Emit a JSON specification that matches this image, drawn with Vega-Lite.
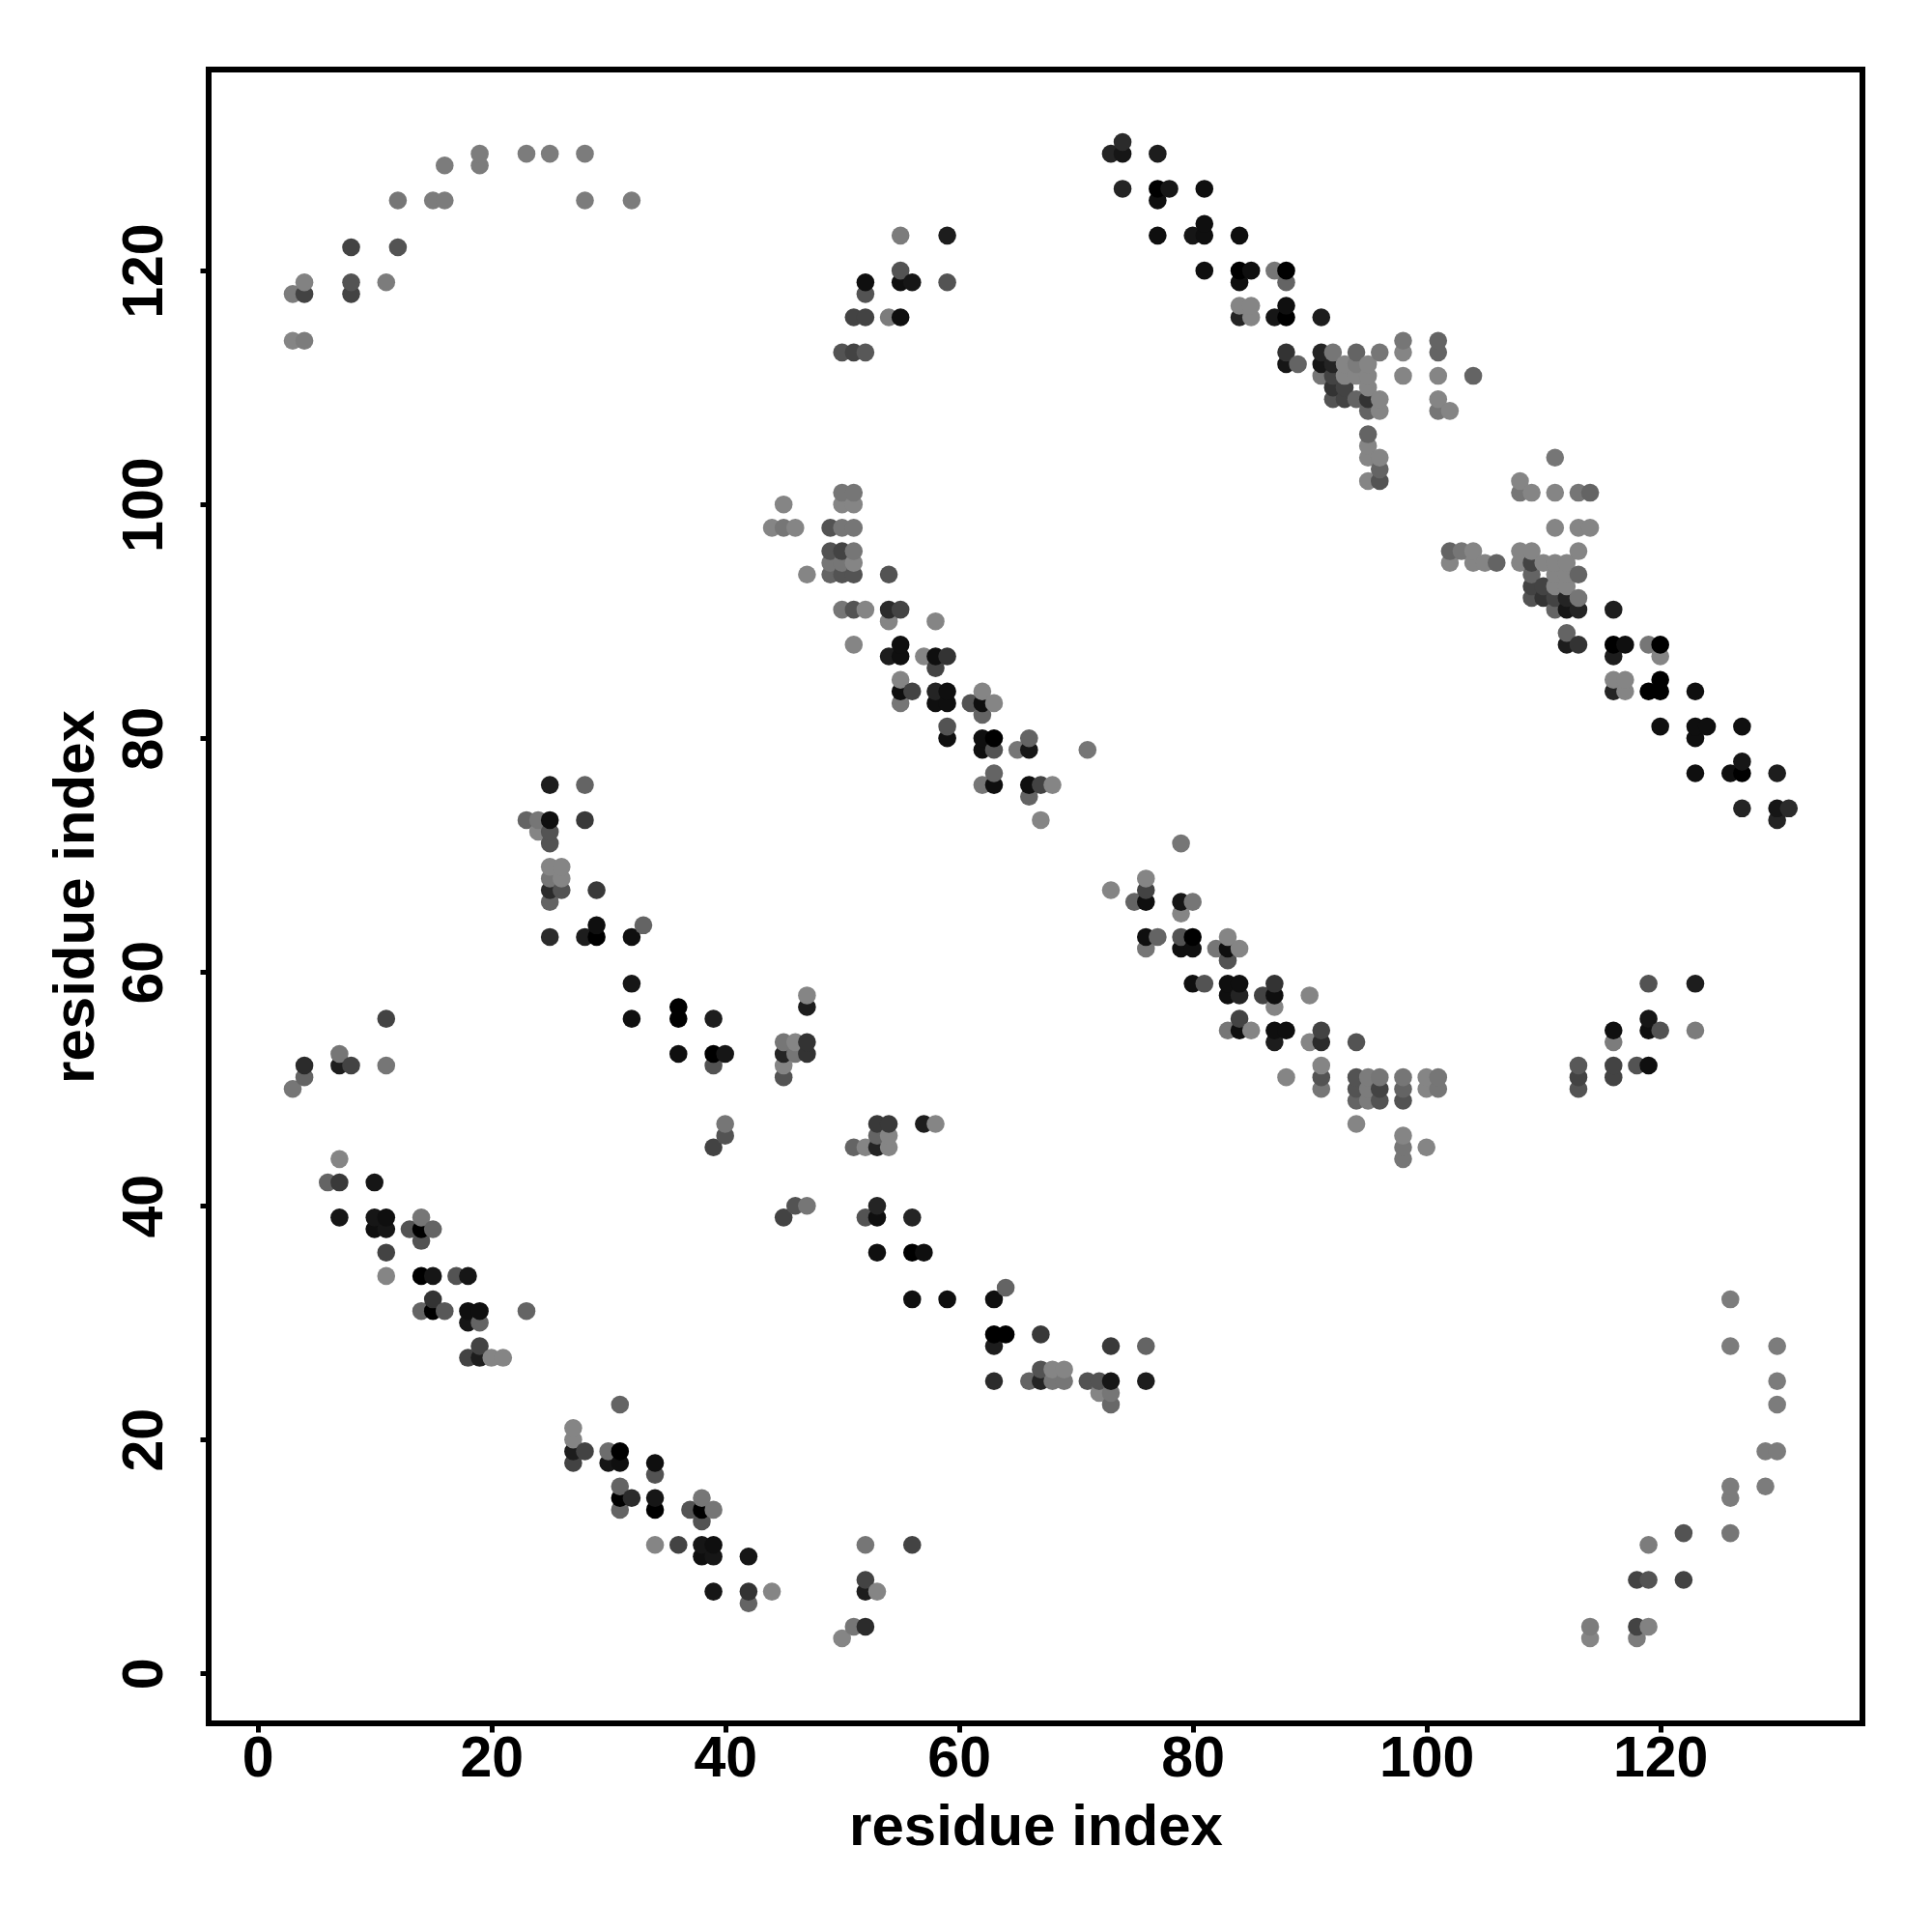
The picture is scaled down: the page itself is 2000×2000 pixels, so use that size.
{"$schema":"https://vega.github.io/schema/vega-lite/v6.json","width":1712,"height":1712,"autosize":"none","padding":{"left":216,"top":72,"right":72,"bottom":216},"background":"white","config":{"view":{"stroke":"#000000","strokeWidth":6},"font":"Liberation Sans"},
"data":{"values":[
{"i":3,"j":50,"s":119},{"i":3,"j":114,"s":133},{"i":3,"j":118,"s":125},
{"i":4,"j":51,"s":102},{"i":4,"j":52,"s":42},{"i":4,"j":114,"s":125},{"i":4,"j":118,"s":68},{"i":4,"j":119,"s":130},
{"i":6,"j":42,"s":102},
{"i":7,"j":39,"s":17},{"i":7,"j":42,"s":58},{"i":7,"j":44,"s":133},{"i":7,"j":52,"s":26},{"i":7,"j":53,"s":119},
{"i":8,"j":52,"s":68},{"i":8,"j":118,"s":68},{"i":8,"j":119,"s":85},{"i":8,"j":122,"s":68},
{"i":10,"j":38,"s":10},{"i":10,"j":39,"s":17},{"i":10,"j":42,"s":17},
{"i":11,"j":34,"s":133},{"i":11,"j":36,"s":68},{"i":11,"j":38,"s":17},{"i":11,"j":39,"s":10},{"i":11,"j":52,"s":119},{"i":11,"j":56,"s":68},{"i":11,"j":119,"s":125},
{"i":12,"j":122,"s":85},{"i":12,"j":126,"s":119},
{"i":13,"j":38,"s":85},
{"i":14,"j":31,"s":102},{"i":14,"j":34,"s":0},{"i":14,"j":37,"s":85},{"i":14,"j":38,"s":0},{"i":14,"j":39,"s":119},
{"i":15,"j":31,"s":0},{"i":15,"j":32,"s":51},{"i":15,"j":34,"s":17},{"i":15,"j":38,"s":102},{"i":15,"j":126,"s":125},
{"i":16,"j":31,"s":90},{"i":16,"j":126,"s":125},{"i":16,"j":129,"s":125},
{"i":17,"j":34,"s":85},
{"i":18,"j":27,"s":68},{"i":18,"j":30,"s":17},{"i":18,"j":31,"s":10},{"i":18,"j":34,"s":17},
{"i":19,"j":27,"s":26},{"i":19,"j":28,"s":68},{"i":19,"j":30,"s":102},{"i":19,"j":31,"s":10},{"i":19,"j":129,"s":125},{"i":19,"j":130,"s":125},
{"i":20,"j":27,"s":133},
{"i":21,"j":27,"s":133},
{"i":23,"j":31,"s":102},{"i":23,"j":73,"s":102},{"i":23,"j":130,"s":125},
{"i":24,"j":72,"s":133},{"i":24,"j":73,"s":119},
{"i":25,"j":63,"s":42},{"i":25,"j":66,"s":102},{"i":25,"j":67,"s":42},{"i":25,"j":68,"s":119},{"i":25,"j":69,"s":133},{"i":25,"j":71,"s":85},{"i":25,"j":72,"s":85},{"i":25,"j":73,"s":10},{"i":25,"j":76,"s":26},{"i":25,"j":130,"s":125},
{"i":26,"j":67,"s":85},{"i":26,"j":68,"s":133},{"i":26,"j":69,"s":133},
{"i":27,"j":18,"s":68},{"i":27,"j":19,"s":26},{"i":27,"j":20,"s":133},{"i":27,"j":21,"s":133},
{"i":28,"j":19,"s":68},{"i":28,"j":63,"s":26},{"i":28,"j":73,"s":58},{"i":28,"j":76,"s":102},{"i":28,"j":126,"s":125},{"i":28,"j":130,"s":125},
{"i":29,"j":63,"s":0},{"i":29,"j":64,"s":10},{"i":29,"j":67,"s":58},
{"i":30,"j":18,"s":17},{"i":30,"j":19,"s":110},
{"i":31,"j":14,"s":102},{"i":31,"j":15,"s":0},{"i":31,"j":16,"s":102},{"i":31,"j":18,"s":10},{"i":31,"j":19,"s":0},{"i":31,"j":23,"s":102},
{"i":32,"j":15,"s":42},{"i":32,"j":56,"s":10},{"i":32,"j":59,"s":17},{"i":32,"j":63,"s":10},{"i":32,"j":126,"s":125},
{"i":33,"j":64,"s":102},
{"i":34,"j":11,"s":133},{"i":34,"j":14,"s":0},{"i":34,"j":15,"s":17},{"i":34,"j":17,"s":85},{"i":34,"j":18,"s":10},
{"i":36,"j":11,"s":68},{"i":36,"j":53,"s":10},{"i":36,"j":56,"s":0},{"i":36,"j":57,"s":0},
{"i":37,"j":14,"s":85},
{"i":38,"j":10,"s":10},{"i":38,"j":11,"s":17},{"i":38,"j":13,"s":85},{"i":38,"j":14,"s":0},{"i":38,"j":15,"s":119},
{"i":39,"j":7,"s":17},{"i":39,"j":10,"s":17},{"i":39,"j":11,"s":10},{"i":39,"j":14,"s":119},{"i":39,"j":45,"s":68},{"i":39,"j":52,"s":85},{"i":39,"j":53,"s":0},{"i":39,"j":56,"s":26},
{"i":40,"j":46,"s":85},{"i":40,"j":47,"s":119},{"i":40,"j":53,"s":17},
{"i":42,"j":6,"s":102},{"i":42,"j":7,"s":51},{"i":42,"j":10,"s":17},
{"i":44,"j":7,"s":133},{"i":44,"j":98,"s":133},
{"i":45,"j":39,"s":68},{"i":45,"j":51,"s":85},{"i":45,"j":52,"s":133},{"i":45,"j":53,"s":34},{"i":45,"j":54,"s":119},{"i":45,"j":98,"s":119},{"i":45,"j":100,"s":133},
{"i":46,"j":40,"s":85},{"i":46,"j":53,"s":119},{"i":46,"j":54,"s":133},{"i":46,"j":98,"s":133},
{"i":47,"j":40,"s":119},{"i":47,"j":53,"s":51},{"i":47,"j":54,"s":51},{"i":47,"j":57,"s":26},{"i":47,"j":58,"s":133},{"i":47,"j":94,"s":133},
{"i":49,"j":94,"s":102},{"i":49,"j":95,"s":119},{"i":49,"j":96,"s":85},{"i":49,"j":98,"s":85},
{"i":50,"j":3,"s":133},{"i":50,"j":91,"s":119},{"i":50,"j":94,"s":85},{"i":50,"j":95,"s":119},{"i":50,"j":96,"s":68},{"i":50,"j":98,"s":119},{"i":50,"j":100,"s":133},{"i":50,"j":101,"s":119},{"i":50,"j":113,"s":85},
{"i":51,"j":4,"s":119},{"i":51,"j":45,"s":102},{"i":51,"j":88,"s":133},{"i":51,"j":91,"s":85},{"i":51,"j":94,"s":85},{"i":51,"j":95,"s":133},{"i":51,"j":96,"s":119},{"i":51,"j":98,"s":119},{"i":51,"j":100,"s":133},{"i":51,"j":101,"s":119},{"i":51,"j":113,"s":68},{"i":51,"j":116,"s":68},
{"i":52,"j":4,"s":42},{"i":52,"j":7,"s":26},{"i":52,"j":8,"s":68},{"i":52,"j":11,"s":119},{"i":52,"j":39,"s":85},{"i":52,"j":45,"s":133},{"i":52,"j":91,"s":133},{"i":52,"j":113,"s":90},{"i":52,"j":116,"s":68},{"i":52,"j":118,"s":85},{"i":52,"j":119,"s":10},
{"i":53,"j":7,"s":133},{"i":53,"j":36,"s":10},{"i":53,"j":39,"s":10},{"i":53,"j":40,"s":34},{"i":53,"j":45,"s":34},{"i":53,"j":46,"s":102},{"i":53,"j":47,"s":58},
{"i":54,"j":45,"s":133},{"i":54,"j":46,"s":133},{"i":54,"j":47,"s":58},{"i":54,"j":87,"s":26},{"i":54,"j":90,"s":133},{"i":54,"j":91,"s":42},{"i":54,"j":94,"s":85},{"i":54,"j":116,"s":125},
{"i":55,"j":83,"s":119},{"i":55,"j":84,"s":10},{"i":55,"j":85,"s":133},{"i":55,"j":87,"s":10},{"i":55,"j":88,"s":10},{"i":55,"j":91,"s":68},{"i":55,"j":116,"s":10},{"i":55,"j":119,"s":10},{"i":55,"j":120,"s":85},{"i":55,"j":123,"s":125},
{"i":56,"j":11,"s":68},{"i":56,"j":32,"s":10},{"i":56,"j":36,"s":0},{"i":56,"j":39,"s":34},{"i":56,"j":84,"s":68},{"i":56,"j":119,"s":17},
{"i":57,"j":36,"s":10},{"i":57,"j":47,"s":26},{"i":57,"j":87,"s":133},
{"i":58,"j":47,"s":133},{"i":58,"j":83,"s":10},{"i":58,"j":84,"s":34},{"i":58,"j":86,"s":68},{"i":58,"j":87,"s":10},{"i":58,"j":90,"s":133},
{"i":59,"j":32,"s":10},{"i":59,"j":80,"s":10},{"i":59,"j":81,"s":85},{"i":59,"j":83,"s":10},{"i":59,"j":84,"s":10},{"i":59,"j":87,"s":51},{"i":59,"j":119,"s":85},{"i":59,"j":123,"s":26},
{"i":61,"j":83,"s":85},
{"i":62,"j":76,"s":119},{"i":62,"j":79,"s":10},{"i":62,"j":80,"s":10},{"i":62,"j":82,"s":102},{"i":62,"j":83,"s":10},{"i":62,"j":84,"s":133},
{"i":63,"j":25,"s":42},{"i":63,"j":28,"s":26},{"i":63,"j":29,"s":0},{"i":63,"j":32,"s":10},{"i":63,"j":76,"s":10},{"i":63,"j":77,"s":102},{"i":63,"j":79,"s":85},{"i":63,"j":80,"s":0},{"i":63,"j":83,"s":133},
{"i":64,"j":29,"s":0},{"i":64,"j":33,"s":102},
{"i":65,"j":79,"s":119},
{"i":66,"j":25,"s":102},{"i":66,"j":75,"s":102},{"i":66,"j":76,"s":10},{"i":66,"j":79,"s":17},{"i":66,"j":80,"s":102},
{"i":67,"j":25,"s":34},{"i":67,"j":26,"s":85},{"i":67,"j":29,"s":58},{"i":67,"j":73,"s":133},{"i":67,"j":76,"s":68},
{"i":68,"j":25,"s":119},{"i":68,"j":26,"s":133},{"i":68,"j":76,"s":133},
{"i":69,"j":25,"s":119},{"i":69,"j":26,"s":133},
{"i":71,"j":25,"s":85},{"i":71,"j":79,"s":119},
{"i":72,"j":24,"s":133},{"i":72,"j":25,"s":85},
{"i":73,"j":23,"s":106},{"i":73,"j":24,"s":119},{"i":73,"j":25,"s":17},{"i":73,"j":28,"s":58},{"i":73,"j":67,"s":133},{"i":73,"j":130,"s":34},
{"i":74,"j":127,"s":34},{"i":74,"j":130,"s":17},{"i":74,"j":131,"s":42},
{"i":75,"j":66,"s":102},
{"i":76,"j":25,"s":26},{"i":76,"j":28,"s":102},{"i":76,"j":62,"s":119},{"i":76,"j":63,"s":10},{"i":76,"j":66,"s":10},{"i":76,"j":67,"s":68},{"i":76,"j":68,"s":133},
{"i":77,"j":63,"s":102},{"i":77,"j":123,"s":10},{"i":77,"j":126,"s":10},{"i":77,"j":127,"s":0},{"i":77,"j":130,"s":26},
{"i":78,"j":127,"s":17},
{"i":79,"j":62,"s":10},{"i":79,"j":63,"s":85},{"i":79,"j":65,"s":133},{"i":79,"j":66,"s":17},{"i":79,"j":71,"s":119},
{"i":80,"j":59,"s":10},{"i":80,"j":62,"s":10},{"i":80,"j":63,"s":0},{"i":80,"j":66,"s":119},{"i":80,"j":123,"s":17},
{"i":81,"j":59,"s":85},{"i":81,"j":120,"s":10},{"i":81,"j":123,"s":10},{"i":81,"j":124,"s":10},{"i":81,"j":127,"s":10},
{"i":82,"j":62,"s":119},
{"i":83,"j":55,"s":119},{"i":83,"j":58,"s":10},{"i":83,"j":59,"s":10},{"i":83,"j":61,"s":85},{"i":83,"j":62,"s":10},{"i":83,"j":63,"s":133},
{"i":84,"j":55,"s":10},{"i":84,"j":56,"s":68},{"i":84,"j":58,"s":34},{"i":84,"j":59,"s":10},{"i":84,"j":62,"s":133},{"i":84,"j":116,"s":34},{"i":84,"j":117,"s":133},{"i":84,"j":119,"s":10},{"i":84,"j":120,"s":0},{"i":84,"j":123,"s":10},
{"i":85,"j":55,"s":133},{"i":85,"j":116,"s":133},{"i":85,"j":117,"s":133},{"i":85,"j":120,"s":10},
{"i":86,"j":58,"s":68},
{"i":87,"j":54,"s":26},{"i":87,"j":55,"s":10},{"i":87,"j":57,"s":133},{"i":87,"j":58,"s":10},{"i":87,"j":59,"s":51},{"i":87,"j":116,"s":17},{"i":87,"j":120,"s":119},
{"i":88,"j":51,"s":133},{"i":88,"j":55,"s":10},{"i":88,"j":112,"s":17},{"i":88,"j":113,"s":51},{"i":88,"j":116,"s":0},{"i":88,"j":117,"s":10},{"i":88,"j":119,"s":102},{"i":88,"j":120,"s":0},
{"i":89,"j":112,"s":102},
{"i":90,"j":54,"s":133},{"i":90,"j":58,"s":133},
{"i":91,"j":50,"s":119},{"i":91,"j":51,"s":85},{"i":91,"j":52,"s":133},{"i":91,"j":54,"s":42},{"i":91,"j":55,"s":68},{"i":91,"j":111,"s":119},{"i":91,"j":112,"s":17},{"i":91,"j":113,"s":34},{"i":91,"j":116,"s":26},
{"i":92,"j":109,"s":85},{"i":92,"j":110,"s":51},{"i":92,"j":111,"s":68},{"i":92,"j":112,"s":34},{"i":92,"j":113,"s":119},
{"i":93,"j":109,"s":68},{"i":93,"j":110,"s":68},{"i":93,"j":111,"s":133},{"i":93,"j":112,"s":133},
{"i":94,"j":47,"s":133},{"i":94,"j":49,"s":102},{"i":94,"j":50,"s":85},{"i":94,"j":51,"s":85},{"i":94,"j":54,"s":85},{"i":94,"j":109,"s":102},{"i":94,"j":111,"s":133},{"i":94,"j":112,"s":125},{"i":94,"j":113,"s":102},
{"i":95,"j":49,"s":125},{"i":95,"j":50,"s":125},{"i":95,"j":51,"s":125},{"i":95,"j":102,"s":133},{"i":95,"j":104,"s":133},{"i":95,"j":105,"s":133},{"i":95,"j":106,"s":102},{"i":95,"j":108,"s":102},{"i":95,"j":109,"s":51},{"i":95,"j":110,"s":133},{"i":95,"j":111,"s":133},{"i":95,"j":112,"s":133},
{"i":96,"j":49,"s":85},{"i":96,"j":50,"s":68},{"i":96,"j":51,"s":119},{"i":96,"j":102,"s":85},{"i":96,"j":103,"s":102},{"i":96,"j":104,"s":133},{"i":96,"j":108,"s":133},{"i":96,"j":109,"s":133},{"i":96,"j":113,"s":119},
{"i":98,"j":44,"s":119},{"i":98,"j":45,"s":119},{"i":98,"j":46,"s":133},{"i":98,"j":49,"s":85},{"i":98,"j":50,"s":102},{"i":98,"j":51,"s":119},{"i":98,"j":111,"s":133},{"i":98,"j":113,"s":133},{"i":98,"j":114,"s":119},
{"i":100,"j":45,"s":133},{"i":100,"j":50,"s":133},{"i":100,"j":51,"s":133},
{"i":101,"j":50,"s":119},{"i":101,"j":51,"s":119},{"i":101,"j":108,"s":119},{"i":101,"j":109,"s":133},{"i":101,"j":111,"s":133},{"i":101,"j":113,"s":102},{"i":101,"j":114,"s":102},
{"i":102,"j":95,"s":133},{"i":102,"j":96,"s":102},{"i":102,"j":108,"s":133},
{"i":103,"j":96,"s":119},
{"i":104,"j":95,"s":133},{"i":104,"j":96,"s":133},{"i":104,"j":111,"s":102},
{"i":105,"j":95,"s":133},
{"i":106,"j":95,"s":102},
{"i":108,"j":95,"s":133},{"i":108,"j":96,"s":133},{"i":108,"j":101,"s":119},{"i":108,"j":102,"s":133},
{"i":109,"j":92,"s":85},{"i":109,"j":93,"s":68},{"i":109,"j":94,"s":102},{"i":109,"j":95,"s":68},{"i":109,"j":96,"s":133},{"i":109,"j":101,"s":133},
{"i":110,"j":92,"s":51},{"i":110,"j":93,"s":68},{"i":110,"j":95,"s":133},
{"i":111,"j":91,"s":102},{"i":111,"j":92,"s":68},{"i":111,"j":93,"s":133},{"i":111,"j":94,"s":133},{"i":111,"j":95,"s":133},{"i":111,"j":98,"s":133},{"i":111,"j":101,"s":133},{"i":111,"j":104,"s":119},
{"i":112,"j":88,"s":26},{"i":112,"j":89,"s":102},{"i":112,"j":91,"s":17},{"i":112,"j":92,"s":34},{"i":112,"j":93,"s":133},{"i":112,"j":94,"s":133},{"i":112,"j":95,"s":133},
{"i":113,"j":50,"s":85},{"i":113,"j":51,"s":68},{"i":113,"j":52,"s":90},{"i":113,"j":88,"s":51},{"i":113,"j":91,"s":34},{"i":113,"j":92,"s":119},{"i":113,"j":94,"s":102},{"i":113,"j":96,"s":133},{"i":113,"j":98,"s":133},{"i":113,"j":101,"s":119},
{"i":114,"j":3,"s":133},{"i":114,"j":4,"s":125},{"i":114,"j":98,"s":133},{"i":114,"j":101,"s":102},
{"i":116,"j":51,"s":68},{"i":116,"j":52,"s":68},{"i":116,"j":54,"s":125},{"i":116,"j":55,"s":10},{"i":116,"j":84,"s":34},{"i":116,"j":85,"s":133},{"i":116,"j":87,"s":26},{"i":116,"j":88,"s":0},{"i":116,"j":91,"s":26},
{"i":117,"j":84,"s":133},{"i":117,"j":85,"s":133},{"i":117,"j":88,"s":10},
{"i":118,"j":3,"s":125},{"i":118,"j":4,"s":68},{"i":118,"j":8,"s":68},{"i":118,"j":52,"s":85},
{"i":119,"j":4,"s":130},{"i":119,"j":8,"s":85},{"i":119,"j":11,"s":125},{"i":119,"j":52,"s":10},{"i":119,"j":55,"s":10},{"i":119,"j":56,"s":17},{"i":119,"j":59,"s":85},{"i":119,"j":84,"s":0},{"i":119,"j":88,"s":119},
{"i":120,"j":55,"s":85},{"i":120,"j":81,"s":10},{"i":120,"j":84,"s":0},{"i":120,"j":85,"s":0},{"i":120,"j":87,"s":133},{"i":120,"j":88,"s":0},
{"i":122,"j":8,"s":68},{"i":122,"j":12,"s":85},
{"i":123,"j":55,"s":125},{"i":123,"j":59,"s":26},{"i":123,"j":77,"s":10},{"i":123,"j":80,"s":10},{"i":123,"j":81,"s":10},{"i":123,"j":84,"s":10},
{"i":124,"j":81,"s":10},
{"i":126,"j":12,"s":119},{"i":126,"j":15,"s":125},{"i":126,"j":16,"s":125},{"i":126,"j":28,"s":125},{"i":126,"j":32,"s":125},{"i":126,"j":77,"s":10},
{"i":127,"j":74,"s":34},{"i":127,"j":77,"s":0},{"i":127,"j":78,"s":17},{"i":127,"j":81,"s":10},
{"i":129,"j":16,"s":125},{"i":129,"j":19,"s":125},
{"i":130,"j":19,"s":125},{"i":130,"j":23,"s":125},{"i":130,"j":25,"s":125},{"i":130,"j":28,"s":125},{"i":130,"j":73,"s":34},{"i":130,"j":74,"s":17},{"i":130,"j":77,"s":26},
{"i":131,"j":74,"s":42}
]},
"mark":{"type":"point","filled":true,"shape":"circle","size":345,"opacity":1,"strokeWidth":0,"clip":false},
"encoding":{
"x":{"field":"i","type":"quantitative","scale":{"domain":[-4.19,137.3],"nice":false,"zero":false},"axis":{"title":"residue index","values":[0,20,40,60,80,100,120],"grid":false,"domain":false,"tickColor":"#000000","tickWidth":5,"tickSize":9,"labelFont":"Liberation Sans","labelFontWeight":"bold","labelFontSize":59,"labelColor":"#000000","labelPadding":-2,"labelOverlap":false,"labelFlush":false,"titleFont":"Liberation Sans","titleFontWeight":"bold","titleFontSize":60,"titleColor":"#000000","titlePadding":12}},
"y":{"field":"j","type":"quantitative","scale":{"domain":[-4.27,137.2],"nice":false,"zero":false},"axis":{"title":"residue index","values":[0,20,40,60,80,100,120],"grid":false,"domain":false,"tickColor":"#000000","tickWidth":5,"tickSize":9,"labelFont":"Liberation Sans","labelFontWeight":"bold","labelFontSize":59,"labelColor":"#000000","labelAngle":-90,"labelAlign":"center","labelBaseline":"bottom","labelPadding":28,"labelOverlap":false,"labelFlush":false,"titleFont":"Liberation Sans","titleFontWeight":"bold","titleFontSize":60,"titleColor":"#000000","titlePadding":11}},
"color":{"field":"s","type":"quantitative","scale":{"type":"linear","domain":[0,136],"range":["#000000","#888888"]},"legend":null}
}}
